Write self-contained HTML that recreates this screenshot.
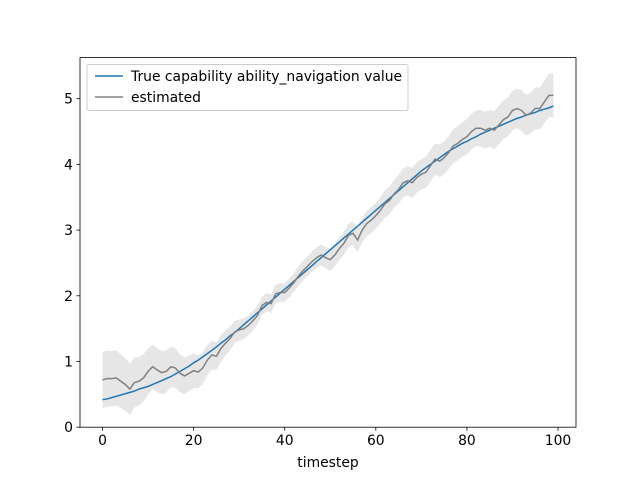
<!DOCTYPE html>
<html><head><meta charset="utf-8"><style>
body{margin:0;background:#fff;font-family:"Liberation Sans","DejaVu Sans",sans-serif}
svg text{font-family:"DejaVu Sans","Liberation Sans",sans-serif;font-size:13.9px;fill:#000}
</style></head><body>
<svg id="chart" width="640" height="480" xmlns="http://www.w3.org/2000/svg">
<rect width="640" height="480" fill="#fff"/>
<g id="plot"></g>
</svg>
<script>
const steps = Array.from({length:100},(_,i)=>i);
const trueValues = [
0.42,0.43,0.45,0.47,0.49,0.51,0.53,0.55,0.58,0.60,
0.62,0.65,0.68,0.71,0.74,0.77,0.81,0.85,0.89,0.93,
0.98,1.02,1.07,1.12,1.17,1.22,1.28,1.33,1.39,1.44,
1.50,1.56,1.62,1.68,1.74,1.80,1.86,1.92,1.98,2.04,
2.10,2.16,2.22,2.28,2.34,2.40,2.46,2.52,2.58,2.64,
2.70,2.76,2.82,2.88,2.94,3.00,3.06,3.12,3.18,3.24,
3.30,3.36,3.42,3.48,3.54,3.60,3.66,3.72,3.78,3.84,
3.90,3.95,4.00,4.05,4.10,4.15,4.20,4.24,4.28,4.32,
4.35,4.39,4.42,4.46,4.49,4.52,4.55,4.58,4.61,4.64,
4.67,4.70,4.72,4.75,4.77,4.79,4.82,4.84,4.86,4.89];
const estimated = [
0.72,0.74,0.74,0.75,0.70,0.65,0.58,0.68,0.70,0.75,
0.85,0.92,0.87,0.83,0.85,0.92,0.90,0.82,0.78,0.82,
0.86,0.84,0.90,1.02,1.10,1.08,1.20,1.28,1.35,1.45,
1.48,1.50,1.55,1.62,1.70,1.85,1.90,1.88,2.03,2.05,
2.05,2.12,2.20,2.30,2.38,2.45,2.52,2.58,2.62,2.58,
2.55,2.62,2.72,2.80,2.92,2.95,2.85,3.00,3.10,3.15,
3.22,3.30,3.40,3.45,3.55,3.62,3.72,3.75,3.72,3.80,
3.85,3.88,3.98,4.08,4.05,4.10,4.18,4.28,4.32,4.38,
4.42,4.50,4.55,4.55,4.52,4.55,4.52,4.60,4.68,4.72,
4.82,4.85,4.82,4.75,4.78,4.85,4.85,4.95,5.05,5.05];
const bandWidth = [
0.43,0.43,0.42,0.42,0.41,0.40,0.39,0.38,0.37,0.36,
0.35,0.34,0.33,0.33,0.32,0.31,0.30,0.29,0.28,0.27,
0.26,0.25,0.24,0.23,0.22,0.21,0.20,0.19,0.18,0.17,
0.16,0.16,0.15,0.15,0.14,0.14,0.14,0.14,0.14,0.14,
0.14,0.14,0.14,0.15,0.15,0.15,0.15,0.16,0.16,0.16,
0.17,0.17,0.17,0.18,0.18,0.18,0.19,0.19,0.19,0.20,
0.20,0.20,0.21,0.21,0.21,0.22,0.22,0.22,0.23,0.23,
0.23,0.24,0.24,0.24,0.25,0.25,0.25,0.26,0.26,0.26,
0.27,0.27,0.27,0.28,0.28,0.28,0.29,0.29,0.29,0.30,
0.30,0.30,0.31,0.31,0.31,0.32,0.32,0.32,0.33,0.33];
const xTicks = [0,20,40,60,80,100];
const yTicks = [0,1,2,3,4,5];

const L=80,R=576,T=57.6,B=427.2;
const xMin=-4.95,xMax=103.95,yMin=0,yMax=5.625;
const X=v=>L+(v-xMin)/(xMax-xMin)*(R-L);
const Y=v=>B-(v-yMin)/(yMax-yMin)*(B-T);
const NS="http://www.w3.org/2000/svg";
const g=document.getElementById('plot');
function mk(tag,attrs,parent){const e=document.createElementNS(NS,tag);for(const k in attrs)e.setAttribute(k,attrs[k]);(parent||g).appendChild(e);return e;}

let d=steps.map((s,i)=>(i?'L':'M')+X(s)+','+Y(estimated[i]+bandWidth[i])).join('');
for(let i=steps.length-1;i>=0;i--)d+='L'+X(steps[i])+','+Y(estimated[i]-bandWidth[i]);
const band=mk('path',{d:d+'Z',fill:'#808080','fill-opacity':0.2,stroke:'none'});



const tl=mk('path',{d:steps.map((s,i)=>(i?'L':'M')+X(s)+','+Y(trueValues[i])).join(''),fill:'none',stroke:'#1f77b4','stroke-width':1.5});


const el=mk('path',{d:steps.map((s,i)=>(i?'L':'M')+X(s)+','+Y(estimated[i])).join(''),fill:'none',stroke:'#808080','stroke-width':1.5});



const frame=mk('rect',{x:L,y:T,width:R-L,height:B-T,fill:'none',stroke:'#000','stroke-width':0.8});



xTicks.forEach(t=>{
  mk('line',{x1:X(t),x2:X(t),y1:B,y2:B+3.5,stroke:'#000','stroke-width':0.8});
  const tx=mk('text',{x:X(t),y:B+18,'text-anchor':'middle'});tx.textContent=t;
  
  
});
yTicks.forEach(t=>{
  mk('line',{x1:L-3.5,x2:L,y1:Y(t),y2:Y(t),stroke:'#000','stroke-width':0.8});
  const tx=mk('text',{x:L-7,y:Y(t)+5,'text-anchor':'end'});tx.textContent=t;
  
  
});
const xt=mk('text',{x:(L+R)/2,y:467,'text-anchor':'middle'});xt.textContent='timestep';



const lg=mk('g',{});


mk('rect',{x:87,y:64.5,width:321,height:46,rx:2,fill:'#fff','fill-opacity':0.8,stroke:'#ccc','stroke-width':1},lg);
mk('line',{x1:95,x2:123,y1:76,y2:76,stroke:'#1f77b4','stroke-width':1.5},lg);
const l1=mk('text',{x:131,y:81},lg);l1.textContent='True capability ability_navigation value';


mk('line',{x1:95,x2:123,y1:97,y2:97,stroke:'#808080','stroke-width':1.5},lg);
const l2=mk('text',{x:131,y:102},lg);l2.textContent='estimated';


</script>
</body></html>
